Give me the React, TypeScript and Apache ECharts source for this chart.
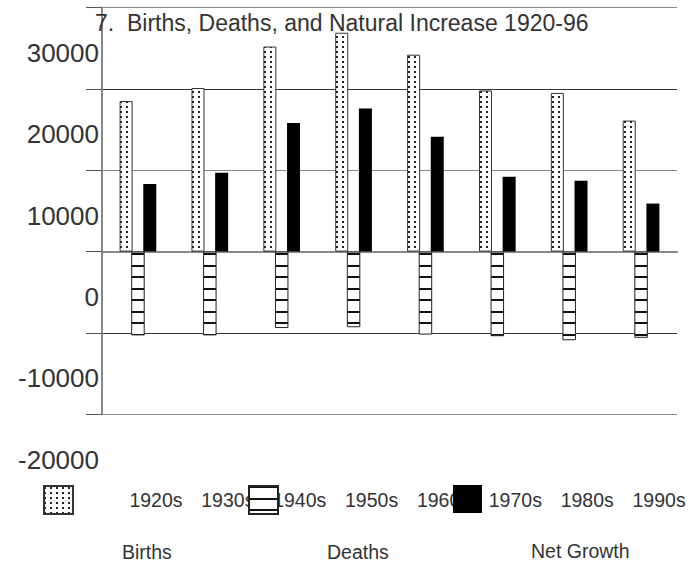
import React, { useEffect, useRef } from 'react';
import * as echarts from 'echarts';

const decades = ['1920s', '1930s', '1940s', '1950s', '1960s', '1970s', '1980s', '1990s'];
const births = [18500, 20100, 25200, 26900, 24200, 19800, 19500, 16100];
const deaths = [-10300, -10300, -9400, -9300, -10200, -10400, -10900, -10600];
const netGrowth = [8300, 9700, 15800, 17600, 14100, 9200, 8700, 5900];
const yMin = -20000;
const yMax = 30000;
const yInterval = 10000;
const seriesNames = ['Births', 'Deaths', 'Net Growth'];
const chartTitle = '7.  Births, Deaths, and Natural Increase 1920-96';

const FONT = '"Liberation Sans", Arial, Helvetica, sans-serif';

function makePattern(w: number, h: number, draw: (ctx: CanvasRenderingContext2D) => void) {
  const c = document.createElement('canvas');
  c.width = w;
  c.height = h;
  const ctx = c.getContext('2d') as CanvasRenderingContext2D;
  ctx.fillStyle = '#ffffff';
  ctx.fillRect(0, 0, w, h);
  draw(ctx);
  return { image: c, repeat: 'repeat', imageWidth: w, imageHeight: h } as any;
}

export default function App() {
  const ref = useRef<HTMLDivElement>(null);

  useEffect(() => {
    if (!ref.current) return;
    const chart = echarts.init(ref.current, undefined, { renderer: 'svg' });

    const dotPattern = makePattern(6, 5, (ctx) => {
      ctx.fillStyle = '#222';
      ctx.fillRect(0, 1, 2, 2);
    });
    const stripePattern = makePattern(4, 23, (ctx) => {
      ctx.fillStyle = '#111';
      ctx.fillRect(0, 0, 4, 2);
      ctx.fillRect(0, 12, 4, 2);
    });

    const legendCommon = {
      top: 485,
      itemWidth: 29,
      itemHeight: 28,
      icon: 'rect',
      selectedMode: false,
      padding: 0,
      formatter: '{t|{name}}',
      textStyle: {
        fontSize: 19.5,
        color: '#333',
        fontFamily: FONT,
        rich: { t: { fontSize: 19.5, color: '#333', fontFamily: FONT, padding: [103, 0, 0, 44] } },
      },
    };

    chart.setOption({
      animation: false,
      textStyle: { fontFamily: FONT },
      title: {
        text: chartTitle,
        left: 95,
        top: 11.5,
        padding: 0,
        textStyle: { fontSize: 23, fontWeight: 'normal', color: '#333', fontFamily: FONT },
      },
      grid: { left: 102, right: 11, top: 7.5, bottom: 146.7, outerBoundsMode: 'none', containLabel: false },
      xAxis: [
        {
          type: 'category',
          data: decades,
          axisLine: { show: true, lineStyle: { color: '#888', width: 2 } },
          axisTick: { show: true, alignWithLabel: true, length: 12, lineStyle: { color: '#777', width: 1.5 } },
          axisLabel: { margin: 76, fontSize: 19.5, color: '#333', padding: [0, 0, 0, 36], interval: 0 },
          splitLine: { show: false },
        },
        { type: 'category', data: decades, show: false, position: 'bottom' },
      ],
      yAxis: {
        type: 'value',
        min: yMin,
        max: yMax,
        interval: yInterval,
        axisLine: { show: true, lineStyle: { color: '#888', width: 2 } },
        axisTick: { show: true, length: 16, lineStyle: { color: '#555' } },
        axisLabel: {
          margin: 3,
          fontSize: 26,
          color: '#333',
          verticalAlign: 'top',
          padding: [32.5, 0, 0, 0],
          formatter: (v: number) => String(v),
        },
        splitLine: {
          show: true,
          lineStyle: { color: ['#888', '#333', '#333', '#888', '#333', '#888'], width: 1 },
        },
      },
      legend: [
        { ...legendCommon, left: 43, data: [seriesNames[0]] },
        { ...legendCommon, left: 248, data: [seriesNames[1]] },
        { ...legendCommon, left: 453, data: [seriesNames[2]] },
      ],
      series: [
        {
          name: seriesNames[0],
          type: 'bar',
          xAxisIndex: 0,
          data: births,
          barWidth: 13,
          barGap: '82%',
          itemStyle: { color: dotPattern, borderColor: '#333', borderWidth: 1 },
        },
        {
          name: seriesNames[2],
          type: 'bar',
          xAxisIndex: 0,
          data: netGrowth,
          barWidth: 13,
          barGap: '82%',
          itemStyle: { color: '#000' },
        },
        {
          name: seriesNames[1],
          type: 'bar',
          xAxisIndex: 1,
          data: deaths,
          barWidth: 13.5,
          itemStyle: { color: stripePattern, borderColor: '#222', borderWidth: 1 },
        },
      ],
    });

    return () => chart.dispose();
  }, []);

  return (
    <div
      ref={ref}
      style={{ position: 'absolute', left: 0, top: 0, width: 688, height: 561, background: '#fff' }}
    />
  );
}
